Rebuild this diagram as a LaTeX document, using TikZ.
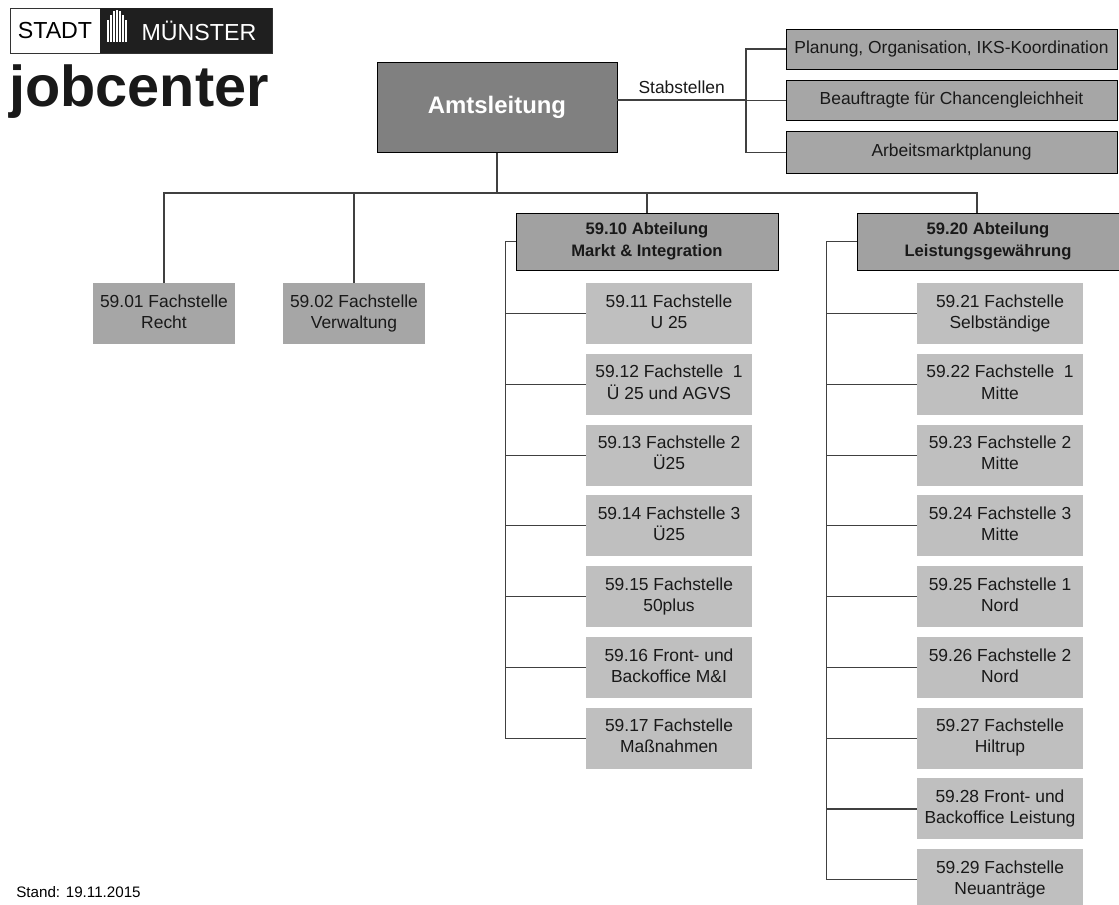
\documentclass[tikz,border=0pt]{standalone}
\usepackage{fontspec}
\setmainfont{Liberation Sans}
\usetikzlibrary{positioning}

\begin{document}
\begin{tikzpicture}[
    x=0.025cm, y=-0.025cm,
    node distance=0.23cm,
    txt/.style={font=\fontsize{12.4}{15}\selectfont, text=black!90, align=center, inner sep=0pt, text depth=3pt},
    chief/.style={rectangle, draw=black, fill=black!50, minimum width=6cm, minimum height=2.25cm, font=\fontsize{17}{20}\selectfont\bfseries, text=white},
    staff/.style={txt, rectangle, draw=black, fill=black!35, minimum width=8.275cm, minimum height=1cm},
    dept/.style={rectangle, draw=black, fill=black!37, minimum width=6.55cm, minimum height=1.425cm, align=center, font=\fontsize{11.8}{15.6}\selectfont\bfseries, text=black!90, text depth=3pt},
    office/.style={txt, rectangle, fill=black!35, minimum width=3.525cm, minimum height=1.525cm},
    subunit/.style={txt, rectangle, fill=black!25, minimum width=4.15cm, minimum height=1.525cm},
    logo/.style={font=\fontsize{16.5}{18}\selectfont, inner sep=0pt},
    link/.style={draw=black!75, line width=0.8pt}
]
    \fill[white] (0,0) rectangle (1119,904);
    \useasboundingbox (0,0) rectangle (1119,904);

    \draw[black!80, line width=0.6pt] (10,8) rectangle (272,53);
    \fill[black!88] (100,8) rectangle (272,53);
    \foreach \bx/\by in {107/20,110/15,113/11,116/10,119/11,122/15,125/20}
        \fill[white] (\bx,\by) rectangle (\bx+2,42);
    \node[logo] (stadt) at (55,31) {STADT};
    \node[logo, text=white] (muenster) at (199,31) {MÜNSTER};
    \node[font=\fontsize{41}{41}\selectfont\bfseries, anchor=base west, inner sep=0pt, text=black!90] (jc) at (9,106) {jobcenter};

    \node[chief] (amt) at (497,107.5) {Amtsleitung};
    \node[staff] (plan) at (951.5,49) {Planung, Organisation, IKS-Koordination};
    \node[staff, below=0.27cm of plan] (beauf) {Beauftragte für Chancengleichheit};
    \node[staff, below=0.27cm of beauf, minimum height=1.05cm] (amp) {Arbeitsmarktplanung};

    \node[office] (recht) at (164,313.5) {59.01 Fachstelle\\Recht};
    \node[office] (verw) at (354,313.5) {59.02 Fachstelle\\Verwaltung};

    \node[dept] (mi) at (647,241.5) {59.10 Abteilung\\Markt \& Integration};
    \node[dept] (lg) at (988,241.5) {59.20 Abteilung\\Leistungsgewährung};

    \node[subunit] (f11) at (669,313.5) {59.11 Fachstelle\\U 25};
    \node[subunit, below=of f11] (f12) {59.12 Fachstelle~ 1\\Ü 25 und AGVS};
    \node[subunit, below=of f12] (f13) {59.13 Fachstelle 2\\Ü25};
    \node[subunit, below=of f13] (f14) {59.14 Fachstelle 3\\Ü25};
    \node[subunit, below=of f14] (f15) {59.15 Fachstelle\\50plus};
    \node[subunit, below=of f15] (f16) {59.16 Front- und\\Backoffice M\&I};
    \node[subunit, below=of f16] (f17) {59.17 Fachstelle\\Maßnahmen};

    \node[subunit] (f21) at (1000,313.5) {59.21 Fachstelle\\Selbständige};
    \node[subunit, below=of f21] (f22) {59.22 Fachstelle~ 1\\Mitte};
    \node[subunit, below=of f22] (f23) {59.23 Fachstelle 2\\Mitte};
    \node[subunit, below=of f23] (f24) {59.24 Fachstelle 3\\Mitte};
    \node[subunit, below=of f24] (f25) {59.25 Fachstelle 1\\Nord};
    \node[subunit, below=of f25] (f26) {59.26 Fachstelle 2\\Nord};
    \node[subunit, below=of f26] (f27) {59.27 Fachstelle\\Hiltrup};
    \node[subunit, below=of f27] (f28) {59.28 Front- und\\Backoffice Leistung};
    \node[subunit, below=of f28] (f29) {59.29 Fachstelle\\Neuanträge};

    \node[font=\fontsize{10.8}{13}\selectfont, anchor=west, inner sep=0pt] (stand) at (16,892) {Stand: 19.11.2015};

    \coordinate (stab) at (746,100);
    \draw[link] (amt.east |- stab) -- (stab) node[txt, midway, above=0.05cm] {Stabstellen};
    \draw[link] (plan.west) -| (stab) |- (amp.west);
    \draw[link] (stab) |- (beauf.west);

    \coordinate (bus) at (497,193);
    \draw[link] (amt.south) -- (bus);
    \draw[link] (recht.north) |- (bus) -| ([xshift=-0.275cm]lg.north);
    \draw[link] (verw.north) -- (verw.north |- bus);
    \draw[link] (mi.north) -- (mi.north |- bus);

    \draw[link] (mi.west) -| ([xshift=-2cm]f17.west) -- (f17.west);
    \foreach \n in {f11,f12,f13,f14,f15,f16}
        \draw[link] (\n.west) -- ++(-80,0);
    \draw[link] (lg.west) -| ([xshift=-2.25cm]f29.west) -- (f29.west);
    \foreach \n in {f21,f22,f23,f24,f25,f26,f27,f28}
        \draw[link] (\n.west) -- ++(-90,0);
\end{tikzpicture}
\end{document}
